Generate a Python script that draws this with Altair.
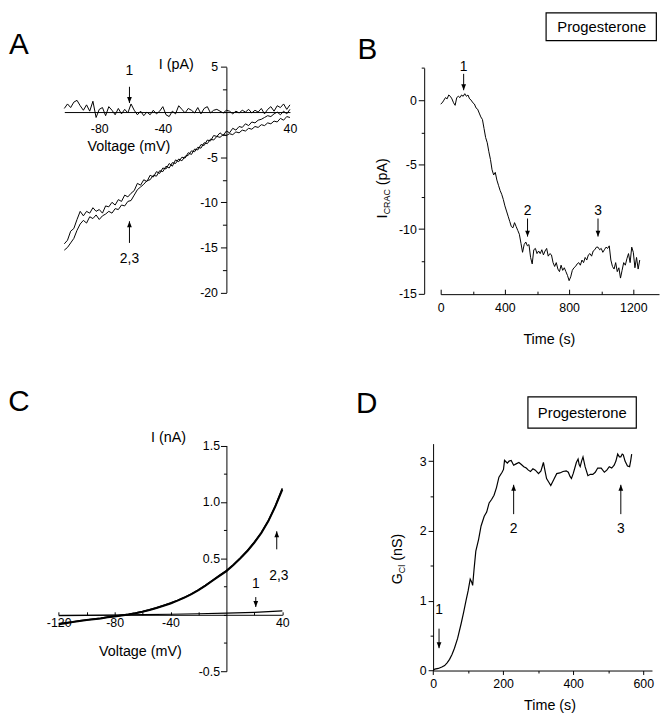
import altair as alt
import pandas as pd

W, H = 660, 711
TICK_FONT = "Liberation Sans Narrow, Liberation Sans, Arial, sans-serif"
TEXT_FONT = "Liberation Sans, Arial, sans-serif"

# ---------------- Panel A : I-V (pA) ----------------
a_voltage = list(range(-102, 41, 2))
a_trace2 = [
    -14.6, -14.2, -13.2, -12.9, -11.9, -11.0, -11.5, -11.0, -11.2, -10.6,
    -11.0, -10.8, -11.2, -10.4, -10.5, -10.0, -10.3, -9.7, -9.9, -9.2,
    -9.4, -9.0, -8.7, -7.9, -8.1, -7.5, -7.7, -7.0, -7.2, -6.6,
    -6.8, -6.2, -6.3, -5.7, -6.0, -5.3, -5.5, -5.0, -5.1, -4.5,
    -4.7, -4.1, -4.2, -3.6, -3.7, -3.1, -3.2, -2.6, -2.7, -2.3,
    -2.6, -2.1, -2.3, -1.8, -2.0, -1.6, -1.7, -1.3, -1.5, -1.1,
    -1.2, -0.9, -0.8, -0.6, -0.4, -0.5, -0.2, 0.0, -0.3, 0.1,
    -0.2, 0.3,
]
a_trace3 = [
    -15.3, -15.0, -14.5, -14.0, -13.1, -12.4, -12.0, -12.3, -11.6, -11.8,
    -11.4, -11.9, -11.5, -11.3, -11.0, -11.2, -10.7, -10.8, -10.3, -10.4,
    -9.9, -9.8, -9.2, -8.6, -8.3, -8.0, -7.6, -7.5, -7.0, -7.1,
    -6.5, -6.6, -6.0, -6.2, -5.6, -5.7, -5.2, -5.4, -4.9, -4.8,
    -4.3, -4.4, -3.9, -4.0, -3.4, -3.5, -3.0, -3.1, -2.7, -2.8,
    -2.5, -2.6, -2.4, -2.5, -2.2, -2.3, -2.0, -2.1, -1.8, -1.9,
    -1.6, -1.7, -1.4, -1.5, -1.2, -1.3, -1.0, -1.1, -0.7, -0.9,
    -0.5, -0.6,
]
a_trace1 = [
    0.4, 0.9, 0.5, 1.1, 1.3, 0.7, 0.2, 0.8, 0.1, 1.2,
    -0.6, 0.3, 0.5, -0.4, 0.6, 0.2, -0.3, 0.4, -0.2, 0.3,
    -0.1, 0.9, 0.2, -0.3, 0.1, -0.4, 0.0, -0.3, 0.2, -0.2,
    0.1, 0.6, -0.3, -0.5, 0.1, -0.2, 0.7, 0.3, -0.1, 0.4,
    0.2, -0.1, 0.5, -0.2, 0.4, 0.6, -0.1, 0.2, 0.3, 0.1,
    -0.1, 0.2, 0.1, -0.2, 0.1, -0.1, 0.2, 0.0, 0.3, -0.1,
    0.2, 0.0, 0.4, -0.2, 0.3, 0.6, 0.1, 0.7, 0.5, 0.9,
    0.3, 0.8,
]
a_xdomain = [-102, 40]
a_ydomain = [-20, 5]
a_xlabels = [-80, -40, 40]
a_ylabels = [5, -5, -10, -15, -20]
a_yminor = [2.5, 0, -2.5, -7.5, -12.5, -17.5]
a_arrow_x = [-61, -61]
a_arrow_tail = [2.8, -14.5]
a_arrow_head = [1.0, -12.1]
a_label_y = [4.6, -16.3]
a_labels = ["1", "2,3"]

# ---------------- Panel B : I_CRAC vs time ----------------
b_time = list(range(0, 1241, 10))
b_current = [
    -0.3, -0.2, 0.0, 0.2, 0.1, 0.4, 0.3, 0.1, -0.2, -0.4,
    0.2, 0.3, 0.2, 0.4, 0.3, 0.5, 0.3, 0.4, 0.1, 0.0,
    -0.2, -0.3, -0.6, -0.7, -1.0, -1.3, -1.5, -2.2, -2.9, -3.3,
    -4.0, -4.6, -5.4, -5.8, -5.6, -6.2, -6.6, -7.0, -7.3, -7.7,
    -8.2, -8.6, -9.0, -9.4, -9.8, -9.9, -9.5, -9.8, -10.1, -10.4,
    -11.1, -11.8, -11.2, -11.0, -11.3, -11.2, -12.2, -12.7, -11.6, -11.5,
    -11.9, -11.7, -11.9, -11.6, -12.0, -11.7, -11.5, -12.1, -11.9, -12.0,
    -12.6, -12.9, -12.6, -13.1, -13.3, -12.8, -13.2, -13.0, -13.3, -13.6,
    -14.0, -13.7, -13.2, -13.0, -12.9, -12.7, -12.6, -12.8, -12.4, -12.6,
    -12.2, -12.4, -12.0, -11.9, -12.1, -11.7, -11.6, -11.4, -11.4, -11.6,
    -11.5, -11.8, -11.6, -11.4, -11.5, -11.3, -12.4, -12.9, -13.1, -12.6,
    -13.3, -13.0, -13.8, -13.2, -12.6, -12.8, -12.3, -11.9, -12.6, -11.4,
    -11.8, -13.0, -12.2, -13.1, -12.4,
]
b_xdomain = [0, 1360]
b_ydomain = [-15, 2.5]
b_xlabels = [0, 400, 800, 1200]
b_xminor = [200, 600, 1000]
b_ylabels = [0, -5, -10, -15]
b_yminor = [2.5, -2.5, -7.5, -12.5]
b_arrow_x = [143, 541, 980]
b_arrow_tail = [2.04, -9.18, -9.18]
b_arrow_head = [0.77, -10.58, -10.58]
b_label_y = [2.6, -8.6, -8.6]
b_labels = ["1", "2", "3"]

# ---------------- Panel C : I-V (nA) ----------------
c_voltage = list(range(-120, 41, 5))
c_trace2 = [-0.085, -0.075, -0.065, -0.055, -0.047, -0.040, -0.032, -0.022, -0.015, -0.006,
            0.003, 0.014, 0.027, 0.042, 0.060, 0.080, 0.100, 0.125, 0.152, 0.183,
            0.218, 0.258, 0.302, 0.345, 0.387, 0.44, 0.50, 0.565, 0.64, 0.725,
            0.83, 0.96, 1.11]
c_trace3 = [-0.078, -0.070, -0.062, -0.052, -0.045, -0.037, -0.030, -0.020, -0.012, -0.004,
            0.005, 0.016, 0.029, 0.044, 0.062, 0.083, 0.104, 0.128, 0.155, 0.186,
            0.221, 0.261, 0.305, 0.349, 0.392, 0.445, 0.505, 0.57, 0.645, 0.73,
            0.835, 0.965, 1.12]
c_voltage1 = [-120, -100, -80, -60, -40, -20, 0, 20, 40]
c_trace1 = [-0.008, -0.005, -0.002, 0.002, 0.005, 0.009, 0.014, 0.022, 0.035]
c_xdomain = [-120, 40]
c_ydomain = [-0.5, 1.5]
c_xlabels = [-120, -80, -40, 40]
c_xinward = [-120, -100, -80, -60, -40, -20, 20, 40]
c_ylabels = [1.5, 1.0, 0.5, -0.5]
c_yminor = [1.25, 0.75, 0.25, 0, -0.25]
c_arrow_x = [21, 36]
c_arrow_tail = [0.157, 0.58]
c_arrow_head = [0.069, 0.74]
c_label_x = [21, 37.5]
c_label_y = [0.273, 0.347]
c_labels = ["1", "2,3"]

# ---------------- Panel D : G_Cl vs time ----------------
d_time = [0, 5, 15, 25, 33, 40, 47, 54, 61, 70, 80, 87, 94, 100, 106, 110, 113, 117, 122, 130,
          137, 146, 153, 160, 167, 174, 181, 188, 197, 201, 204, 208, 212, 217, 223, 230, 237, 245, 252, 259,
          266, 272, 278, 285, 292, 301, 308, 315, 320, 324, 330, 336, 345, 353, 362, 371, 380, 386, 391, 395,
          400, 404, 409, 414, 417, 420, 424, 428, 434, 442, 449, 456, 463, 470, 480, 489, 496, 503, 510, 517,
          522, 527, 532, 536, 540, 543, 548, 555, 561, 564, 567]
d_gcl = [0.0, 0.02, 0.03, 0.05, 0.07, 0.11, 0.16, 0.23, 0.32, 0.46, 0.67, 0.83, 1.0, 1.14, 1.31, 1.27, 1.22, 1.45, 1.71, 1.88,
         2.07, 2.21, 2.27, 2.4, 2.45, 2.51, 2.62, 2.77, 2.84, 2.88, 3.01, 2.99, 2.97, 3.0, 3.01, 2.94, 2.96, 2.98, 2.95, 2.92,
         2.9, 2.87, 2.85, 2.89, 2.87, 2.82, 2.86, 2.98, 2.85, 2.75, 2.7, 2.65, 2.74, 2.82, 2.83, 2.85, 2.86, 2.84, 2.78, 2.75,
         2.82, 2.89, 2.98, 3.03, 2.95, 2.92, 3.0, 3.06, 2.92, 2.79, 2.81, 2.81, 2.84, 2.9, 2.9, 2.84, 2.87, 2.92, 2.9, 2.94,
         3.0, 3.1, 3.06, 3.06, 3.1, 3.09, 3.0, 2.93, 2.92, 3.0, 3.1]
d_xdomain = [0, 625]
d_ydomain = [0, 3.25]
d_xlabels = [0, 200, 400, 600]
d_xminor = [100, 300, 500]
d_ylabels = [0, 1, 2, 3]
d_yminor = [0.5, 1.5, 2.5]
d_arrow_x = [17, 230, 536]
d_arrow_tail = [0.60, 2.24, 2.24]
d_arrow_head = [0.32, 2.66, 2.66]
d_label_y = [0.86, 2.02, 2.02]
d_labels = ["1", "2", "3"]

# ---------------- helpers ----------------
ARROW_DOWN = "M-0.4,-1L0.4,-1L0,0Z"
ARROW_UP = "M-0.4,1L0.4,1L0,0Z"
LABEL_EXPR = "replace(replace(datum.label, '\u2212', '-'), ',', '')"


def scale(domain, rng):
    return alt.Scale(domain=domain, range=rng, nice=False, zero=False)


def px(domain, rng, v):
    return rng[0] + (v - domain[0]) / (domain[1] - domain[0]) * (rng[1] - rng[0])


def axis(orient, offset, values, tick_size, labels=True, domain=True, fmt=None, pad=2, ticks=True):
    kw = dict(orient=orient, offset=offset, values=values, ticks=ticks,
              tickSize=tick_size if ticks else 0, labels=labels, domain=domain,
              grid=False, title=None, labelPadding=pad, labelFont=TICK_FONT,
              labelFontSize=12.5, labelColor="black", tickColor="black", tickWidth=1,
              domainColor="black", domainWidth=1, labelOverlap=False, labelFlush=False,
              labelExpr=LABEL_EXPR)
    if fmt:
        kw["format"] = fmt
    return alt.Axis(**kw)


def axis_layer(xd, yd, xs, ys, xaxis=None, yaxis=None):
    df = pd.DataFrame({"x": xd, "y": yd})
    return alt.Chart(df).mark_point(opacity=0).encode(
        x=alt.X("x:Q", scale=xs, axis=xaxis),
        y=alt.Y("y:Q", scale=ys, axis=yaxis),
    )


def line(df, xcol, ycol, xs, ys, width=1.0):
    return alt.Chart(df).mark_line(color="black", strokeWidth=width).encode(
        x=alt.X(f"{xcol}:Q", scale=xs, axis=None),
        y=alt.Y(f"{ycol}:Q", scale=ys, axis=None),
    )


def arrows(xs_vals, tails, heads, lab_x, lab_y, labs, xs, ys):
    df = pd.DataFrame({"x": xs_vals, "tail": tails, "head": heads})
    df["dir"] = ["up" if h > t else "down" for t, h in zip(tails, heads)]
    rule = alt.Chart(df).mark_rule(color="black", strokeWidth=1).encode(
        x=alt.X("x:Q", scale=xs, axis=None),
        y=alt.Y("tail:Q", scale=ys, axis=None),
        y2="head:Q",
    )
    head = alt.Chart(df).mark_point(filled=True, color="black", opacity=1, strokeWidth=0).encode(
        x=alt.X("x:Q", scale=xs, axis=None),
        y=alt.Y("head:Q", scale=ys, axis=None),
        shape=alt.Shape("dir:N", scale=alt.Scale(domain=["down", "up"], range=[ARROW_DOWN, ARROW_UP]), legend=None),
        size=alt.value(144),
    )
    ldf = pd.DataFrame({"x": lab_x, "y": lab_y, "lab": labs})
    text = alt.Chart(ldf).mark_text(font=TEXT_FONT, fontSize=14, color="black", baseline="middle").encode(
        x=alt.X("x:Q", scale=xs, axis=None),
        y=alt.Y("y:Q", scale=ys, axis=None),
        text="lab:N",
    )
    return [rule, head, text]


def label(txt, x, y, size=14.5, angle=0, align="center", baseline="middle"):
    return alt.Chart(pd.DataFrame({"t": [txt]})).mark_text(
        align=align, baseline=baseline, fontSize=size, font=TEXT_FONT, angle=angle, color="black"
    ).encode(text="t:N", x=alt.value(x), y=alt.value(y))


def box(x1, y1, x2, y2):
    return alt.Chart(pd.DataFrame({"k": [0]})).mark_rect(
        fill="white", fillOpacity=0, stroke="black", strokeWidth=1.2
    ).encode(x=alt.value(x1), x2=alt.value(x2), y=alt.value(y1), y2=alt.value(y2))


layers = []

# ---------- Panel A ----------
A_XR, A_YR = [57, 285.4], [283.7, 55.3]
A_X, A_Y = scale(a_xdomain, A_XR), scale(a_ydomain, A_YR)
a_x0 = px(a_xdomain, A_XR, 0)
a_y0 = px(a_ydomain, A_YR, 0)
dfA = pd.DataFrame({"v": a_voltage, "i1": a_trace1, "i2": a_trace2, "i3": a_trace3})
layers.append(axis_layer(a_xdomain, a_ydomain, A_X, A_Y,
                         xaxis=axis("bottom", a_y0 - H, a_xlabels, 0, ticks=False, pad=11),
                         yaxis=axis("left", -a_x0, a_ylabels, 6, pad=3)))
layers.append(axis_layer(a_xdomain, a_ydomain, A_X, A_Y,
                         yaxis=axis("left", -a_x0, a_yminor, 4, labels=False, domain=False)))
layers.append(alt.layer(
    line(dfA, "v", "i1", A_X, A_Y), line(dfA, "v", "i2", A_X, A_Y), line(dfA, "v", "i3", A_X, A_Y),
    *arrows(a_arrow_x, a_arrow_tail, a_arrow_head, a_arrow_x, a_label_y, a_labels, A_X, A_Y)))

# ---------- Panel B ----------
B_XR, B_YR = [438, 659], [284.7, 56.3]
B_X, B_Y = scale(b_xdomain, B_XR), scale(b_ydomain, B_YR)
b_yaxis_x = 421.3
b_xaxis_y = B_YR[0] + 0.6
dfB = pd.DataFrame({"t": b_time, "i": b_current})
layers.append(axis_layer(b_xdomain, b_ydomain, B_X, B_Y,
                         xaxis=axis("bottom", b_xaxis_y - H, b_xlabels, 0, ticks=False, pad=8),
                         yaxis=axis("left", -b_yaxis_x, b_ylabels, 6, pad=2)))
layers.append(axis_layer(b_xdomain, b_ydomain, B_X, B_Y,
                         xaxis=axis("top", -b_xaxis_y, b_xlabels, 5, labels=False, domain=False),
                         yaxis=axis("left", -b_yaxis_x, b_yminor, 3, labels=False, domain=False)))
layers.append(axis_layer(b_xdomain, b_ydomain, B_X, B_Y,
                         xaxis=axis("top", -b_xaxis_y, b_xminor, 3, labels=False, domain=False)))
layers.append(alt.layer(
    line(dfB, "t", "i", B_X, B_Y),
    *arrows(b_arrow_x, b_arrow_tail, b_arrow_head, b_arrow_x, b_label_y, b_labels, B_X, B_Y)))

# ---------- Panel C ----------
C_XR, C_YR = [51.3, 277.7], [667, 438.5]
C_X, C_Y = scale(c_xdomain, C_XR), scale(c_ydomain, C_YR)
c_x0 = px(c_xdomain, C_XR, 0)
c_y0 = px(c_ydomain, C_YR, 0)
dfC = pd.DataFrame({"v": c_voltage, "i2": c_trace2, "i3": c_trace3})
dfC1 = pd.DataFrame({"v": c_voltage1, "i1": c_trace1})
layers.append(axis_layer(c_xdomain, c_ydomain, C_X, C_Y,
                         xaxis=axis("bottom", c_y0 - H, c_xlabels, 0, ticks=False, pad=2),
                         yaxis=axis("left", -c_x0, c_ylabels, 6, fmt=".1f", pad=1)))
layers.append(axis_layer(c_xdomain, c_ydomain, C_X, C_Y,
                         xaxis=axis("top", -c_y0, c_xinward, 3, labels=False, domain=False),
                         yaxis=axis("left", -c_x0, c_yminor, 3, labels=False, domain=False)))
layers.append(alt.layer(
    line(dfC, "v", "i2", C_X, C_Y, 2.0), line(dfC, "v", "i3", C_X, C_Y, 1.5),
    line(dfC1, "v", "i1", C_X, C_Y, 1.2),
    *arrows(c_arrow_x, c_arrow_tail, c_arrow_head, c_label_x, c_label_y, c_labels, C_X, C_Y)))

# ---------- Panel D ----------
D_XR, D_YR = [430.3, 651.9], [666.3, 436.6]
D_X, D_Y = scale(d_xdomain, D_XR), scale(d_ydomain, D_YR)
d_x0 = px(d_xdomain, D_XR, 0)
d_y0 = px(d_ydomain, D_YR, 0)
dfD = pd.DataFrame({"t": d_time, "g": d_gcl})
layers.append(axis_layer(d_xdomain, d_ydomain, D_X, D_Y,
                         xaxis=axis("bottom", d_y0 - H, d_xlabels, 4, pad=3),
                         yaxis=axis("left", -d_x0, d_ylabels, 5, pad=2)))
layers.append(axis_layer(d_xdomain, d_ydomain, D_X, D_Y,
                         xaxis=axis("bottom", d_y0 - H, d_xminor, 2.5, labels=False, domain=False),
                         yaxis=axis("left", -d_x0, d_yminor, 3, labels=False, domain=False)))
layers.append(alt.layer(
    line(dfD, "t", "g", D_X, D_Y, 1.2),
    *arrows(d_arrow_x, d_arrow_tail, d_arrow_head, d_arrow_x, d_label_y, d_labels, D_X, D_Y)))

# ---------- titles, letters, boxes ----------
layers += [
    label("A", 11, 33, size=30),
    label("I (pA)", 170.3, 53.5),
    label("Voltage (mV)", 122.3, 136.5),
    label("B", 363.7, 38.7, size=30),
    box(544.7, 0.5, 656.3, 28.7),
    label("Progesterone", 601, 14.5, size=15),
    label("I", 384, 208.7, angle=270, align="left", baseline="alphabetic"),
    label("CRAC", 387, 204.5, size=9, angle=270, align="left", baseline="alphabetic"),
    label("(pA)", 384, 175, angle=270, align="left", baseline="alphabetic"),
    label("Time (s)", 548, 331.5),
    label("C", 11, 395, size=30),
    label("I (nA)", 162.5, 430.8),
    label("Voltage (mV)", 134, 647.8),
    label("D", 363, 397, size=30),
    box(526.3, 389.3, 636, 421),
    label("Progesterone", 581.3, 405.2, size=15),
    label("G", 399, 579, angle=270, align="left", baseline="alphabetic"),
    label("Cl", 402, 567.7, size=9, angle=270, align="left", baseline="alphabetic"),
    label("(nS)", 399, 555.2, angle=270, align="left", baseline="alphabetic"),
    label("Time (s)", 548.7, 702),
]

chart = alt.layer(*layers).resolve_scale(x="independent", y="independent").properties(
    width=W, height=H, padding=0, autosize=alt.AutoSizeParams(type="none")
).configure_view(stroke=None)

chart.save("out.html", embed_options={"renderer": "svg", "actions": False})
